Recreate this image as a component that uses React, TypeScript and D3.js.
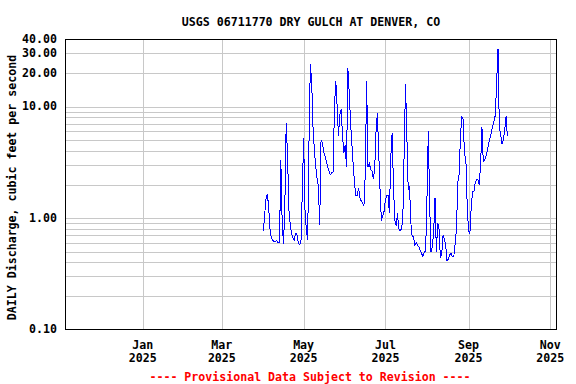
import React from "react";
import * as d3 from "d3";

// daily discharge, cfs, starting 2025-04-01
const startDate = new Date(2025, 3, 1);
const discharge = [
  0.77, 1.1, 1.5, 1.65, 1.2, 0.77, 0.66, 0.63, 0.61, 0.62,
  0.63, 0.6, 0.6, 3.3, 0.9, 0.58, 1.3, 7.1, 3.7, 1.2,
  0.87, 0.72, 0.66, 0.64, 0.72, 0.72, 0.6, 0.58, 0.6, 1.7,
  5.2, 1.19, 0.8, 0.64, 4.7, 23.9, 17, 6.5, 4.1, 2.9,
  2.3, 1.93, 0.87, 5.0, 4.7, 3.9, 3.6, 3.2, 2.85, 2.62,
  2.45, 2.55, 2.6, 10, 16.9, 10, 5.5, 8.5, 9.5, 5.5,
  3.8, 4.5, 2.9, 22, 13.5, 7.2, 4.6, 3.0, 2.0, 1.6,
  1.6, 1.85, 1.52, 1.42, 1.36, 1.3, 2.5, 17, 2.9, 3.1,
  2.72, 2.65, 2.25, 2.7, 6, 8.8, 3.9, 1.8, 0.95, 1.05,
  1.15, 1.45, 1.6, 1.6, 1.1, 3.5, 5.8, 2.0, 0.95, 0.85,
  1.1, 0.8, 0.77, 0.8, 1.0, 4.0, 16, 5.5, 1.8, 1.9,
  0.9, 0.68, 0.68, 0.57, 0.6, 0.57, 0.55, 0.51, 0.48, 0.45,
  0.5, 0.5, 1.5, 6.0, 1.35, 0.5, 0.55, 0.75, 1.5, 0.5,
  0.9, 0.8, 0.44, 0.47, 0.7, 0.65, 0.56, 0.41, 0.43, 0.47,
  0.48, 0.45, 0.45, 0.58, 0.8, 2.06, 2.5, 5.4, 8.2, 7.7,
  3.7, 3.5, 1.3, 0.78, 0.72, 1.25, 1.72, 1.72, 2.06, 2.2,
  2.2, 2.0, 3.0, 6.5, 3.2, 3.3, 3.58, 4.0, 4.6, 5.2,
  5.8, 6.7, 7.4, 8.4, 17, 33, 6.4, 5.6, 4.6, 5.0,
  6.2, 8.2, 5.4,
];

const yLabelTicks = [0.1, 1, 10, 20, 30, 40];
const yGridValues = [
  0.2, 0.3, 0.4, 0.5, 0.6, 0.7, 0.8, 0.9,
  1, 2, 3, 4, 5, 6, 7, 8, 9, 10, 20, 30,
];
const xTickDates = [
  new Date(2025, 0, 1),
  new Date(2025, 2, 1),
  new Date(2025, 4, 1),
  new Date(2025, 6, 1),
  new Date(2025, 8, 1),
  new Date(2025, 10, 1),
];

const title = "USGS 06711770 DRY GULCH AT DENVER, CO";
const yTitle = "DAILY Discharge, cubic feet per second";
const footer = "---- Provisional Data Subject to Revision ----";

const W = 576;
const H = 384;
const left = 65;
const right = 557;
const top = 39.5;
const bottom = 329.5;
const font = "'DejaVu Sans Mono', monospace";

export default function App() {
  const x = d3
    .scaleTime()
    .domain([new Date(2024, 10, 4), new Date(2025, 10, 6)])
    .range([left, right]);
  const y = d3.scaleLog().domain([0.1, 40]).range([bottom, top]);

  const points = discharge.map((v, i) => ({
    date: d3.timeDay.offset(startDate, i),
    v,
  }));
  const line = d3
    .line<{ date: Date; v: number }>()
    .x((d) => x(d.date))
    .y((d) => y(d.v));

  const fmtMonth = d3.timeFormat("%b");
  const fmtYear = d3.timeFormat("%Y");

  return (
    <svg
      width={W}
      height={H}
      style={{ position: "absolute", left: 0, top: 0, background: "#fff" }}
      fontFamily={font}
      fontWeight="bold"
      fontSize={11.6}
    >
      <rect x={0} y={0} width={W} height={H} fill="#fff" />
      <text x={(left + right) / 2} y={22} textAnchor="middle" dominantBaseline="middle">
        {title}
      </text>

      {/* grid */}
      <g stroke="#c8c8c8" strokeWidth={1} shapeRendering="crispEdges">
        {yGridValues.map((v) => (
          <line key={"h" + v} x1={left} x2={right} y1={Math.round(y(v)) + 0.5} y2={Math.round(y(v)) + 0.5} />
        ))}
        {xTickDates.map((d) => (
          <line key={"v" + d.getTime()} x1={Math.round(x(d)) + 0.5} x2={Math.round(x(d)) + 0.5} y1={top} y2={bottom} />
        ))}
      </g>

      {/* data */}
      <path
        d={line(points) || ""}
        fill="none"
        stroke="#0000ff"
        strokeWidth={1}
        shapeRendering="crispEdges"
      />

      {/* frame */}
      <rect
        x={left + 0.5}
        y={top}
        width={right - left - 1}
        height={bottom - top}
        fill="none"
        stroke="#000"
        strokeWidth={1}
        shapeRendering="crispEdges"
      />

      {/* y tick labels */}
      {yLabelTicks.map((v) => (
        <text key={"yl" + v} x={57} y={y(v)} textAnchor="end" dominantBaseline="middle">
          {v.toFixed(2)}
        </text>
      ))}

      {/* x tick labels */}
      {xTickDates.map((d) => (
        <g key={"xl" + d.getTime()}>
          <text x={x(d)} y={345} textAnchor="middle" dominantBaseline="middle">
            {fmtMonth(d)}
          </text>
          <text x={x(d)} y={358} textAnchor="middle" dominantBaseline="middle">
            {fmtYear(d)}
          </text>
        </g>
      ))}

      <text
        transform={`translate(12, ${(top + bottom) / 2 + 3}) rotate(-90)`}
        textAnchor="middle"
        dominantBaseline="middle"
      >
        {yTitle}
      </text>

      <text x={310} y={377} textAnchor="middle" dominantBaseline="middle" fill="#ff0000">
        {footer}
      </text>
    </svg>
  );
}
